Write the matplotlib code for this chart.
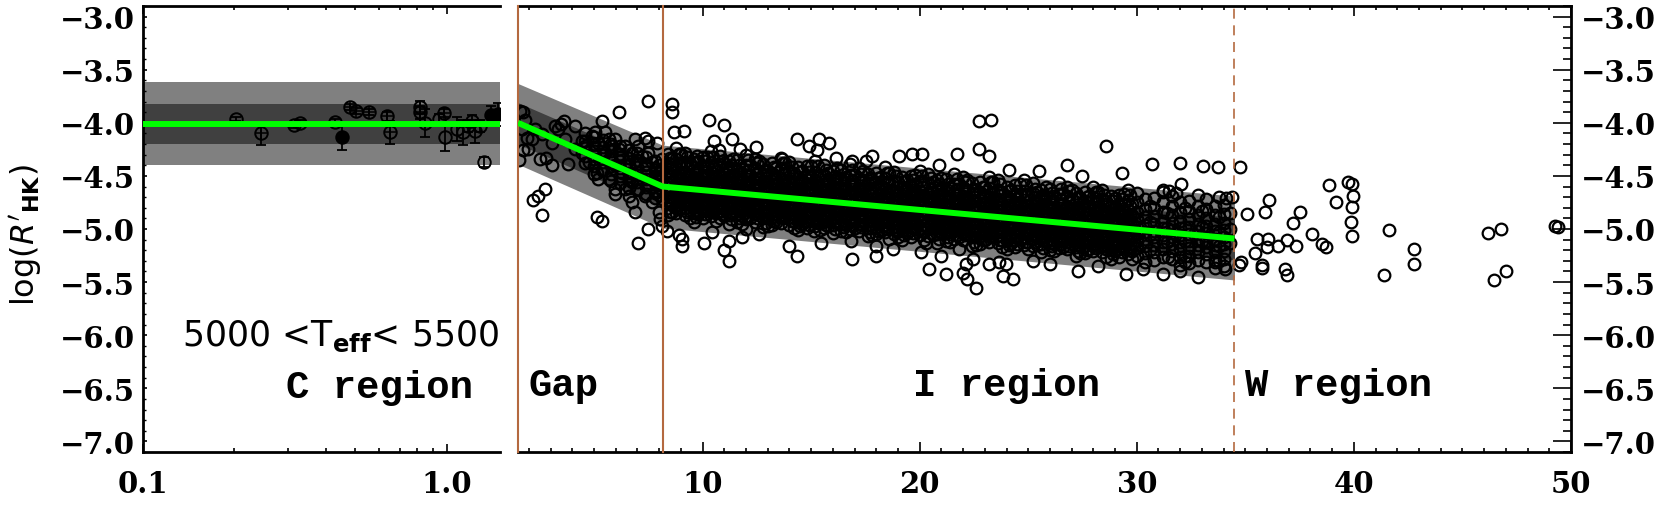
import numpy as np
import matplotlib
matplotlib.use("Agg")
import matplotlib.pyplot as plt
from matplotlib.ticker import FixedLocator, MultipleLocator, NullFormatter, FuncFormatter

# ============================================================
# DADOS - painel C (eixo log)
# ============================================================
c_period = [0.203, 0.244, 0.314, 0.328, 0.429, 0.452, 0.479, 0.504, 0.555, 0.637,
            0.650, 0.817, 0.817, 0.847, 0.946, 0.983, 0.990, 1.08, 1.136, 1.18,
            1.21, 1.24, 1.29, 1.33, 1.40, 1.48]
c_logr = [-3.965, -4.10, -4.02, -4.00, -3.99, -4.13, -3.85, -3.89, -3.90, -3.94,
          -4.09, -3.90, -3.855, -4.00, -3.96, -3.91, -4.13, -4.06, -4.09, -4.03,
          -3.98, -4.08, -4.03, -4.37, -3.93, -3.92]
c_err = [0.02, 0.11, 0.03, 0.03, 0.03, 0.13, 0.03, 0.03, 0.03, 0.04,
         0.11, 0.06, 0.06, 0.13, 0.04, 0.04, 0.14, 0.11, 0.12, 0.06,
         0.05, 0.11, 0.06, 0.05, 0.09, 0.11]
c_filled = [0, 0, 0, 0, 0, 1, 0, 0, 0, 0, 0, 0, 0, 0, 0, 0, 0, 0, 0, 0, 0, 0, 0, 0, 1, 1]
c_cross = [0, 1, 0, 0, 0, 0, 1, 1, 1, 1, 1, 1, 1, 0, 0, 1, 0, 0, 0, 0, 0, 0, 0, 0, 0, 0]
c_mean = -4.01
c_sig1 = [-4.20, -3.82]
c_sig2 = [-4.40, -3.62]

# ============================================================
# DADOS - painel Gap / I / W (eixo linear)
# ============================================================
fit_period = [1.5, 8.16, 34.5]
fit_logr = [-4.00, -4.60, -5.09]
band2_hi = [-3.63, -4.21, -4.69]
band2_lo = [-4.39, -4.99, -5.48]
band1_hi = [-3.81, -4.40, -4.89]
band1_lo = [-4.20, -4.80, -5.29]

gap_period = [1.75, 1.6, 1.82, 1.67, 1.9, 1.98, 1.75, 1.55, 2.5, 2.8, 3.05, 2.6, 3.2, 3.5,
              3.6, 3.36, 4.13, 3.8, 4.44, 4.6, 5.36, 5.05, 5.5, 6.13, 7.51, 5.13, 5.36,
              5.98, 5.98, 6.74, 6.9, 7.51, 7.05, 5.13, 5.36, 2.2, 2.44, 2.75, 2.6, 6.9,
              7.36, 7.51, 7.9, 7.98, 8.05, 6.28, 5.82, 6.44, 6.59, 7.2, 4.9, 5.2, 5.67,
              5.98, 6.13, 6.44, 6.74, 7.05, 7.2, 7.51, 7.67, 7.82, 7.98, 7.36, 6.9, 6.74,
              7.05, 7.51, 7.82, 8.13, 7.67, 7.36, 5.67, 5.98, 5.51, 5.05, 4.75, 4.44,
              4.13, 3.67, 3.05, 2.28, 2.13, 5.2, 5.67, 6.44, 6.59, 7.98, 8.13, 8.13,
              8.13, 7.82, 6.74, 6.98, 6.28, 8.13]
gap_logr = [-3.90, -3.89, -3.97, -4.06, -4.14, -4.25, -4.26, -4.35, -4.34, -4.33, -4.40,
            -4.11, -4.03, -4.01, -3.98, -4.06, -4.03, -4.39, -4.17, -4.22, -3.98, -4.09,
            -4.09, -3.90, -3.79, -4.47, -4.44, -4.62, -4.67, -4.75, -4.84, -5.00, -5.13,
            -4.89, -4.92, -4.73, -4.69, -4.62, -4.87, -4.15, -4.14, -4.17, -4.19, -4.84,
            -4.91, -4.31, -4.22, -4.40, -4.50, -4.53, -4.12, -4.19, -4.15, -4.15, -4.25,
            -4.22, -4.28, -4.22, -4.31, -4.28, -4.37, -4.44, -4.50, -4.40, -4.37, -4.56,
            -4.62, -4.59, -4.66, -4.72, -4.75, -4.69, -4.34, -4.40, -4.28, -4.31, -4.37,
            -4.28, -4.25, -4.15, -4.19, -4.06, -4.15, -4.53, -4.53, -4.62, -4.69, -4.59,
            -4.53, -4.44, -4.34, -4.53, -4.47, -4.53, -4.47, -4.97]

# parte densa da faixa Gap (colunas)
gap_cols = [4.6, 5.0, 5.4, 5.8, 6.2, 6.6, 7.0, 7.4, 7.8, 8.0]
gap_vals = [[-4.10, -4.17, -4.24, -4.31, -4.38],
            [-4.13, -4.20, -4.27, -4.34, -4.41, -4.48],
            [-4.16, -4.23, -4.30, -4.37, -4.44],
            [-4.20, -4.27, -4.34, -4.41, -4.48, -4.55],
            [-4.22, -4.29, -4.36, -4.43, -4.50, -4.57],
            [-4.26, -4.33, -4.40, -4.47, -4.54, -4.61],
            [-4.28, -4.35, -4.42, -4.49, -4.56, -4.63],
            [-4.32, -4.39, -4.46, -4.53, -4.60, -4.67],
            [-4.36, -4.43, -4.50, -4.57, -4.64, -4.71],
            [-4.40, -4.47, -4.54, -4.61, -4.68]]

# parte densa da regiao I (colunas)
core_cols = [8.4, 8.6, 8.8, 9.0, 9.2, 9.4, 9.6, 9.8, 10.0, 10.2, 10.4, 10.6, 10.8, 11.0,
             11.2, 11.4, 11.6, 11.8, 12.0, 12.2, 12.4, 12.6, 12.8, 13.0, 13.2, 13.4,
             13.6, 13.8, 14.0, 14.2, 14.4, 14.6, 14.8, 15.0, 15.2, 15.4, 15.6, 15.8,
             16.0, 16.2, 16.4, 16.6, 16.8, 17.0, 17.2, 17.4, 17.6, 17.8, 18.0, 18.2,
             18.4, 18.6, 18.8, 19.0, 19.2, 19.4, 19.6, 19.8, 20.0, 20.2, 20.4, 20.6,
             20.8, 21.0, 21.2, 21.4, 21.6, 21.8, 22.0, 22.2, 22.4, 22.6, 22.8, 23.0,
             23.2, 23.4, 23.6, 23.8, 24.0, 24.2, 24.4, 24.6, 24.8, 25.0, 25.2, 25.4,
             25.6, 25.8, 26.0, 26.2, 26.4, 26.6, 26.8, 27.0, 27.2, 27.4, 27.6, 27.8,
             28.0, 28.2, 28.4, 28.6, 28.8, 29.0, 29.2, 29.4, 29.6, 29.8, 30.0, 30.4,
             30.6, 30.8, 31.2, 31.4, 31.6, 32.0, 32.2, 32.4, 32.8, 33.0, 33.2, 33.6,
             33.8, 34.0, 34.3]
core_vals = [
    [-4.29, -4.38, -4.46, -4.53, -4.60, -4.66, -4.73, -4.80, -4.87],
    [-4.34, -4.43, -4.50, -4.57, -4.64, -4.70, -4.77, -4.84],
    [-4.24, -4.34, -4.43, -4.51, -4.58, -4.65, -4.71, -4.78, -4.85],
    [-4.29, -4.38, -4.46, -4.53, -4.60, -4.66, -4.73, -4.80],
    [-4.28, -4.37, -4.46, -4.53, -4.60, -4.67, -4.73, -4.80, -4.87],
    [-4.38, -4.49, -4.56, -4.63, -4.69, -4.76, -4.83, -4.90],
    [-4.34, -4.43, -4.51, -4.58, -4.65, -4.71, -4.78, -4.85, -4.93],
    [-4.36, -4.45, -4.52, -4.59, -4.66, -4.72, -4.79, -4.86],
    [-4.32, -4.41, -4.49, -4.56, -4.63, -4.69, -4.76, -4.83, -4.90],
    [-4.32, -4.41, -4.49, -4.56, -4.63, -4.69, -4.76, -4.83],
    [-4.27, -4.37, -4.46, -4.54, -4.61, -4.68, -4.74, -4.81, -4.88],
    [-4.40, -4.51, -4.58, -4.65, -4.71, -4.78, -4.85, -4.92],
    [-4.31, -4.40, -4.49, -4.56, -4.63, -4.70, -4.76, -4.83, -4.90],
    [-4.38, -4.47, -4.54, -4.61, -4.68, -4.74, -4.81, -4.88],
    [-4.36, -4.45, -4.53, -4.60, -4.67, -4.73, -4.80, -4.87, -4.95],
    [-4.34, -4.43, -4.51, -4.58, -4.65, -4.71, -4.78, -4.85],
    [-4.35, -4.44, -4.52, -4.59, -4.66, -4.72, -4.79, -4.86, -4.93],
    [-4.43, -4.54, -4.61, -4.68, -4.74, -4.81, -4.88, -4.95],
    [-4.30, -4.40, -4.49, -4.57, -4.64, -4.71, -4.77, -4.84, -4.91],
    [-4.40, -4.49, -4.56, -4.63, -4.70, -4.76, -4.83, -4.90],
    [-4.34, -4.43, -4.52, -4.59, -4.66, -4.73, -4.79, -4.86, -4.93],
    [-4.36, -4.45, -4.53, -4.60, -4.67, -4.73, -4.80, -4.87],
    [-4.39, -4.48, -4.56, -4.63, -4.70, -4.76, -4.83, -4.90, -4.98],
    [-4.45, -4.56, -4.63, -4.70, -4.76, -4.83, -4.90, -4.97],
    [-4.38, -4.47, -4.55, -4.62, -4.69, -4.75, -4.82, -4.89, -4.96],
    [-4.43, -4.52, -4.59, -4.66, -4.73, -4.79, -4.86, -4.93],
    [-4.33, -4.43, -4.52, -4.60, -4.67, -4.74, -4.80, -4.87, -4.94],
    [-4.38, -4.47, -4.55, -4.62, -4.69, -4.75, -4.82, -4.89],
    [-4.37, -4.46, -4.55, -4.62, -4.69, -4.76, -4.82, -4.89, -4.96],
    [-4.47, -4.58, -4.65, -4.72, -4.78, -4.85, -4.92, -4.99],
    [-4.42, -4.51, -4.59, -4.66, -4.73, -4.79, -4.86, -4.93, -5.01],
    [-4.45, -4.54, -4.61, -4.68, -4.75, -4.81, -4.88, -4.95],
    [-4.41, -4.50, -4.58, -4.65, -4.72, -4.78, -4.85, -4.92, -4.99],
    [-4.41, -4.50, -4.58, -4.65, -4.72, -4.78, -4.85, -4.92],
    [-4.36, -4.46, -4.55, -4.63, -4.70, -4.77, -4.83, -4.90, -4.97],
    [-4.49, -4.60, -4.67, -4.74, -4.80, -4.87, -4.94, -5.01],
    [-4.40, -4.49, -4.58, -4.65, -4.72, -4.79, -4.85, -4.92, -4.99],
    [-4.47, -4.56, -4.63, -4.70, -4.77, -4.83, -4.90, -4.97],
    [-4.45, -4.54, -4.62, -4.69, -4.76, -4.82, -4.89, -4.96, -5.04],
    [-4.43, -4.52, -4.60, -4.67, -4.74, -4.80, -4.87, -4.94],
    [-4.44, -4.53, -4.61, -4.68, -4.75, -4.81, -4.88, -4.95, -5.02],
    [-4.51, -4.62, -4.69, -4.76, -4.82, -4.89, -4.96, -5.03],
    [-4.39, -4.49, -4.58, -4.66, -4.73, -4.80, -4.86, -4.93, -5.00],
    [-4.49, -4.58, -4.65, -4.72, -4.79, -4.85, -4.92, -4.99],
    [-4.43, -4.52, -4.61, -4.68, -4.75, -4.82, -4.88, -4.95, -5.02],
    [-4.45, -4.54, -4.62, -4.69, -4.76, -4.82, -4.89, -4.96],
    [-4.48, -4.57, -4.65, -4.72, -4.79, -4.85, -4.92, -4.99, -5.07],
    [-4.54, -4.65, -4.72, -4.79, -4.85, -4.92, -4.99, -5.06],
    [-4.47, -4.56, -4.64, -4.71, -4.78, -4.84, -4.91, -4.98, -5.05],
    [-4.51, -4.60, -4.67, -4.74, -4.81, -4.87, -4.94, -5.01],
    [-4.42, -4.52, -4.61, -4.69, -4.76, -4.83, -4.89, -4.96, -5.03],
    [-4.47, -4.56, -4.64, -4.71, -4.78, -4.84, -4.91, -4.98],
    [-4.46, -4.55, -4.64, -4.71, -4.78, -4.85, -4.91, -4.98, -5.05],
    [-4.56, -4.67, -4.74, -4.81, -4.87, -4.94, -5.01, -5.08],
    [-4.51, -4.60, -4.68, -4.75, -4.82, -4.88, -4.95, -5.02, -5.10],
    [-4.54, -4.63, -4.70, -4.77, -4.84, -4.90, -4.97, -5.04],
    [-4.50, -4.59, -4.67, -4.74, -4.81, -4.87, -4.94, -5.01, -5.08],
    [-4.49, -4.58, -4.66, -4.73, -4.80, -4.86, -4.93, -5.00],
    [-4.45, -4.55, -4.64, -4.72, -4.79, -4.86, -4.92, -4.99, -5.06],
    [-4.58, -4.69, -4.76, -4.83, -4.89, -4.96, -5.03, -5.10],
    [-4.48, -4.57, -4.66, -4.73, -4.80, -4.87, -4.93, -5.00, -5.07],
    [-4.56, -4.65, -4.72, -4.79, -4.86, -4.92, -4.99, -5.06],
    [-4.54, -4.63, -4.71, -4.78, -4.85, -4.91, -4.98, -5.05, -5.13],
    [-4.52, -4.61, -4.69, -4.76, -4.83, -4.89, -4.96, -5.03],
    [-4.53, -4.62, -4.70, -4.77, -4.84, -4.90, -4.97, -5.04, -5.11],
    [-4.60, -4.71, -4.78, -4.85, -4.91, -4.98, -5.05, -5.12],
    [-4.48, -4.58, -4.67, -4.75, -4.82, -4.89, -4.95, -5.02, -5.09],
    [-4.58, -4.67, -4.74, -4.81, -4.88, -4.94, -5.01, -5.08],
    [-4.51, -4.60, -4.69, -4.76, -4.83, -4.90, -4.96, -5.03, -5.10],
    [-4.54, -4.63, -4.71, -4.78, -4.85, -4.91, -4.98, -5.05],
    [-4.57, -4.66, -4.74, -4.81, -4.88, -4.94, -5.01, -5.08, -5.16],
    [-4.63, -4.74, -4.81, -4.88, -4.94, -5.01, -5.08, -5.15],
    [-4.56, -4.65, -4.73, -4.80, -4.87, -4.93, -5.00, -5.07, -5.14],
    [-4.60, -4.69, -4.76, -4.83, -4.90, -4.96, -5.03, -5.10],
    [-4.51, -4.61, -4.70, -4.78, -4.85, -4.92, -4.98, -5.05, -5.12],
    [-4.56, -4.65, -4.73, -4.80, -4.87, -4.93, -5.00, -5.07],
    [-4.54, -4.63, -4.72, -4.79, -4.86, -4.93, -4.99, -5.06, -5.13],
    [-4.65, -4.76, -4.83, -4.90, -4.96, -5.03, -5.10, -5.17],
    [-4.60, -4.69, -4.77, -4.84, -4.91, -4.97, -5.04, -5.11, -5.19],
    [-4.63, -4.72, -4.79, -4.86, -4.93, -4.99, -5.06, -5.13],
    [-4.59, -4.68, -4.76, -4.83, -4.90, -4.96, -5.03, -5.10, -5.17],
    [-4.58, -4.67, -4.75, -4.82, -4.89, -4.95, -5.02, -5.09],
    [-4.54, -4.64, -4.73, -4.81, -4.88, -4.95, -5.01, -5.08, -5.15],
    [-4.67, -4.78, -4.85, -4.92, -4.98, -5.05, -5.12, -5.19],
    [-4.57, -4.66, -4.75, -4.82, -4.89, -4.96, -5.02, -5.09, -5.16],
    [-4.65, -4.74, -4.81, -4.88, -4.95, -5.01, -5.08, -5.15],
    [-4.63, -4.72, -4.80, -4.87, -4.94, -5.00, -5.07, -5.14, -5.22],
    [-4.60, -4.69, -4.77, -4.84, -4.91, -4.97, -5.04, -5.11],
    [-4.62, -4.71, -4.79, -4.86, -4.93, -4.99, -5.06, -5.13, -5.20],
    [-4.69, -4.80, -4.87, -4.94, -5.00, -5.07, -5.14, -5.21],
    [-4.57, -4.67, -4.76, -4.84, -4.91, -4.98, -5.04, -5.11, -5.18],
    [-4.67, -4.76, -4.83, -4.90, -4.97, -5.03, -5.10, -5.17],
    [-4.60, -4.69, -4.78, -4.85, -4.92, -4.99, -5.05, -5.12, -5.19],
    [-4.63, -4.72, -4.80, -4.87, -4.94, -5.00, -5.07, -5.14],
    [-4.66, -4.75, -4.83, -4.90, -4.97, -5.03, -5.10, -5.17, -5.25],
    [-4.71, -4.82, -4.89, -4.96, -5.02, -5.09, -5.16, -5.23],
    [-4.65, -4.74, -4.82, -4.89, -4.96, -5.02, -5.09, -5.16, -5.23],
    [-4.69, -4.78, -4.85, -4.92, -4.99, -5.05, -5.12, -5.19],
    [-4.60, -4.70, -4.79, -4.87, -4.94, -5.01, -5.07, -5.14, -5.21],
    [-4.65, -4.74, -4.82, -4.89, -4.96, -5.02, -5.09, -5.16],
    [-4.63, -4.72, -4.81, -4.88, -4.95, -5.02, -5.08, -5.15, -5.22],
    [-4.74, -4.85, -4.92, -4.99, -5.05, -5.12, -5.19, -5.26],
    [-4.69, -4.78, -4.86, -4.93, -5.00, -5.06, -5.13, -5.20, -5.28],
    [-4.71, -4.80, -4.87, -4.94, -5.01, -5.07, -5.14, -5.21],
    [-4.68, -4.77, -4.85, -4.92, -4.99, -5.05, -5.12, -5.19, -5.26],
    [-4.67, -4.76, -4.84, -4.91, -4.98, -5.04, -5.11, -5.18],
    [-4.63, -4.73, -4.82, -4.90, -4.97, -5.04, -5.10, -5.17, -5.24],
    [-4.76, -4.87, -4.94, -5.01, -5.07, -5.14, -5.21, -5.28],
    [-4.66, -4.75, -4.84, -4.91, -4.98, -5.05, -5.11, -5.18, -5.25],
    [-4.72, -4.81, -4.89, -4.96, -5.03, -5.09, -5.16, -5.23, -5.31],
    [-4.78, -4.93, -5.06, -5.20],
    [-4.71, -4.80, -4.88, -4.95, -5.02, -5.08, -5.15, -5.22, -5.29],
    [-4.65, -4.75, -4.84, -4.92, -4.99, -5.06, -5.12, -5.19, -5.26],
    [-4.85, -4.99, -5.12],
    [-4.69, -4.78, -4.87, -4.94, -5.01, -5.08, -5.14, -5.21, -5.28],
    [-4.75, -4.84, -4.92, -4.99, -5.06, -5.12, -5.19, -5.26, -5.34],
    [-4.80, -4.98, -5.11, -5.25],
    [-4.74, -4.83, -4.91, -4.98, -5.05, -5.11, -5.18, -5.25, -5.32],
    [-4.68, -4.78, -4.87, -4.95, -5.02, -5.09, -5.15, -5.22, -5.29],
    [-4.83, -4.98, -5.11],
    [-4.72, -4.81, -4.90, -4.97, -5.04, -5.11, -5.17, -5.24, -5.31],
    [-4.78, -4.87, -4.95, -5.02, -5.09, -5.15, -5.22, -5.29, -5.37],
    [-4.89, -5.03, -5.16, -5.30],
    [-4.77, -4.86, -4.94, -5.01, -5.08, -5.14, -5.21, -5.28, -5.35],
    [-4.85, -5.00, -5.13]]

# miolo mais denso (entre as colunas acima)
core2_cols = [8.5, 8.9, 9.3, 9.7, 10.1, 10.5, 10.9, 11.3, 11.7, 12.1, 12.5, 12.9, 13.3,
              13.7, 14.1, 14.5, 14.9, 15.3, 15.7, 16.1, 16.5, 16.9, 17.3, 17.7, 18.1,
              18.5, 18.9, 19.3, 19.7, 20.1, 20.5, 20.9, 21.3, 21.7, 22.1, 22.5, 22.9,
              23.3, 23.7, 24.1, 24.5, 24.9, 25.3, 25.7, 26.1, 26.5, 26.9, 27.3, 27.7,
              28.1, 28.5, 28.9, 29.3, 29.7]
core2_vals = [
    [-4.33, -4.42, -4.50, -4.56, -4.63, -4.70, -4.76, -4.84],
    [-4.29, -4.38, -4.47, -4.54, -4.61, -4.68, -4.74, -4.81],
    [-4.32, -4.41, -4.50, -4.56, -4.63, -4.70, -4.76, -4.84],
    [-4.38, -4.47, -4.54, -4.61, -4.68, -4.74, -4.82, -4.89],
    [-4.36, -4.45, -4.52, -4.60, -4.66, -4.72, -4.80, -4.86],
    [-4.32, -4.42, -4.50, -4.58, -4.64, -4.71, -4.78, -4.84],
    [-4.36, -4.44, -4.52, -4.60, -4.66, -4.73, -4.80, -4.86],
    [-4.40, -4.49, -4.56, -4.64, -4.70, -4.76, -4.84, -4.91],
    [-4.40, -4.48, -4.56, -4.62, -4.69, -4.76, -4.82, -4.90],
    [-4.35, -4.44, -4.53, -4.60, -4.68, -4.74, -4.80, -4.88],
    [-4.38, -4.48, -4.56, -4.62, -4.70, -4.76, -4.82, -4.90],
    [-4.44, -4.52, -4.60, -4.66, -4.73, -4.80, -4.86, -4.94],
    [-4.42, -4.51, -4.58, -4.66, -4.72, -4.78, -4.86, -4.92],
    [-4.38, -4.48, -4.56, -4.64, -4.70, -4.77, -4.84, -4.90],
    [-4.42, -4.50, -4.58, -4.66, -4.72, -4.79, -4.86, -4.92],
    [-4.46, -4.55, -4.62, -4.70, -4.76, -4.82, -4.90, -4.97],
    [-4.46, -4.54, -4.62, -4.68, -4.75, -4.82, -4.88, -4.96],
    [-4.41, -4.50, -4.59, -4.66, -4.74, -4.80, -4.86, -4.94],
    [-4.44, -4.54, -4.62, -4.68, -4.76, -4.82, -4.88, -4.96],
    [-4.50, -4.58, -4.66, -4.72, -4.79, -4.86, -4.92, -5.00],
    [-4.48, -4.57, -4.64, -4.72, -4.78, -4.84, -4.92, -4.98],
    [-4.44, -4.54, -4.62, -4.70, -4.76, -4.83, -4.90, -4.96],
    [-4.48, -4.56, -4.64, -4.72, -4.78, -4.85, -4.92, -4.98],
    [-4.52, -4.61, -4.68, -4.76, -4.82, -4.88, -4.96, -5.03],
    [-4.52, -4.60, -4.68, -4.74, -4.81, -4.88, -4.94, -5.02],
    [-4.47, -4.56, -4.65, -4.72, -4.80, -4.86, -4.92, -5.00],
    [-4.50, -4.60, -4.68, -4.74, -4.82, -4.88, -4.94, -5.02],
    [-4.56, -4.64, -4.72, -4.78, -4.85, -4.92, -4.98, -5.06],
    [-4.54, -4.63, -4.70, -4.78, -4.84, -4.90, -4.98, -5.04],
    [-4.50, -4.60, -4.68, -4.76, -4.82, -4.89, -4.96, -5.02],
    [-4.52, -4.62, -4.70, -4.76, -4.84, -4.90, -4.96, -5.04],
    [-4.58, -4.67, -4.74, -4.82, -4.88, -4.94, -5.02, -5.09],
    [-4.58, -4.66, -4.74, -4.80, -4.87, -4.94, -5.00, -5.08],
    [-4.53, -4.62, -4.71, -4.78, -4.86, -4.92, -4.98, -5.06],
    [-4.56, -4.64, -4.72, -4.80, -4.86, -4.93, -5.00, -5.06],
    [-4.62, -4.70, -4.78, -4.84, -4.91, -4.98, -5.04, -5.12],
    [-4.60, -4.69, -4.76, -4.84, -4.90, -4.96, -5.04, -5.10],
    [-4.56, -4.66, -4.74, -4.82, -4.88, -4.95, -5.02, -5.08],
    [-4.58, -4.68, -4.76, -4.82, -4.90, -4.96, -5.02, -5.10],
    [-4.64, -4.73, -4.80, -4.88, -4.94, -5.00, -5.08, -5.15],
    [-4.64, -4.72, -4.80, -4.86, -4.93, -5.00, -5.06, -5.14],
    [-4.59, -4.68, -4.77, -4.84, -4.92, -4.98, -5.04, -5.12],
    [-4.62, -4.70, -4.78, -4.86, -4.92, -4.99, -5.06, -5.12],
    [-4.68, -4.76, -4.84, -4.90, -4.97, -5.04, -5.10, -5.18],
    [-4.66, -4.75, -4.82, -4.90, -4.96, -5.02, -5.10, -5.16],
    [-4.62, -4.72, -4.80, -4.88, -4.94, -5.01, -5.08, -5.14],
    [-4.64, -4.74, -4.82, -4.88, -4.96, -5.02, -5.08, -5.16],
    [-4.70, -4.79, -4.86, -4.94, -5.00, -5.06, -5.14, -5.21],
    [-4.70, -4.78, -4.86, -4.92, -4.99, -5.06, -5.12, -5.20],
    [-4.65, -4.74, -4.83, -4.90, -4.98, -5.04, -5.10, -5.18],
    [-4.68, -4.76, -4.84, -4.92, -4.98, -5.05, -5.12, -5.18],
    [-4.74, -4.82, -4.90, -4.96, -5.03, -5.10, -5.16, -5.24],
    [-4.72, -4.81, -4.88, -4.96, -5.02, -5.08, -5.16, -5.22],
    [-4.68, -4.78, -4.86, -4.94, -5.00, -5.07, -5.14, -5.20]]

# pontos espalhados da regiao I
i_period = [8.59, 8.59, 9.13, 8.67, 10.28, 10.98, 10.52, 11.36, 10.75, 11.74, 12.44, 14.36,
            14.9, 15.36, 15.82, 15.28, 16.13, 17.82, 17.51, 19.05, 19.67, 20.13, 20.9,
            21.74, 22.74, 23.28, 22.74, 23.2, 24.1, 16.9, 13.67, 9.74,
            9.05, 9.05, 8.9, 8.36, 10.05, 10.44, 11.2, 10.98, 11.2, 11.82, 11.98, 12.59,
            13.98, 14.36, 15.13, 15.44, 16.82, 16.9, 17.98, 17.98, 18.75, 18.59, 20.05,
            20.44, 21.2, 20.98, 21.98, 22.13, 22.2, 22.59, 22.44, 23.2, 23.82, 23.67,
            23.98, 24.28, 21.82, 20.28,
            30.7, 31.99, 33.07, 33.73, 32.04, 31.2, 31.5, 31.8, 33.8, 34.1, 34.4, 31.2,
            32.0, 32.84, 34.07, 33.6, 32.2, 31.45,
            25.5, 26.8, 27.5, 28.6, 29.3, 26.0, 27.3, 28.2, 29.5, 30.3, 25.2]
i_logr = [-3.82, -3.90, -4.08, -4.09, -3.97, -4.02, -4.17, -4.15, -4.26, -4.25, -4.23, -4.15,
          -4.22, -4.15, -4.19, -4.26, -4.33, -4.31, -4.36, -4.31, -4.29, -4.29, -4.40,
          -4.29, -3.98, -3.97, -4.25, -4.31, -4.44, -4.36, -4.34, -4.31,
          -5.09, -5.16, -5.06, -5.02, -5.13, -5.03, -5.11, -5.20, -5.30, -5.08, -5.00,
          -5.05, -5.16, -5.25, -5.02, -5.13, -5.11, -5.28, -5.16, -5.25, -5.19, -5.09,
          -5.22, -5.38, -5.42, -5.25, -5.41, -5.33, -5.47, -5.56, -5.28, -5.33, -5.44,
          -5.31, -5.33, -5.47, -5.19, -5.13,
          -4.39, -4.38, -4.41, -4.42, -4.58, -4.63, -4.64, -4.66, -4.70, -4.71, -4.70,
          -5.42, -5.40, -5.45, -5.38, -5.31, -5.31, -5.26,
          -4.45, -4.40, -4.50, -4.22, -4.47, -5.33, -5.40, -5.35, -5.42, -5.38, -5.30]

# regiao W
w_period = [34.76, 35.06, 34.79, 34.7, 35.52, 36.06, 35.98, 35.44, 35.75, 35.75, 35.9, 36.1,
            36.51, 36.9, 36.83, 36.9, 37.2, 37.33, 37.52, 38.06, 38.52, 38.72, 38.86,
            39.18, 39.75, 39.93, 39.98, 39.93, 39.87, 39.93, 41.39, 41.62, 42.77, 42.77,
            46.17, 46.77, 46.47, 47.0, 49.27, 49.4]
w_logr = [-4.42, -4.86, -5.31, -5.34, -5.09, -5.09, -5.17, -5.23, -5.34, -5.37, -4.84, -4.73,
          -5.16, -5.10, -5.38, -5.43, -4.94, -5.16, -4.84, -5.05, -5.14, -5.17, -4.59,
          -4.75, -4.56, -4.58, -4.69, -4.79, -4.93, -5.07, -5.43, -5.01, -5.19, -5.33,
          -5.04, -5.00, -5.48, -5.40, -4.97, -4.98]

vline_solid = [1.5, 8.16]
vline_dash = 34.5

BROWN = "#b4693f"
GREEN = "#00ff00"
LIGHT = "#808080"
DARK = "#404040"

plt.rcParams["font.family"] = "DejaVu Serif"

fig = plt.figure(figsize=(16.61, 5.06), dpi=100)
W, H = 1661.0, 506.0
ax1 = fig.add_axes([143 / W, 53 / H, 357 / W, 446 / H])
ax2 = fig.add_axes([518 / W, 53 / H, 1053 / W, 446 / H])

fmt = FuncFormatter(lambda v, p: f"{v:.1f}".replace("-", "\u2212"))

# ============================================================
# PAINEL C
# ============================================================
ax1.axhspan(c_sig2[0], c_sig2[1], color=LIGHT, lw=0, zorder=0)
ax1.axhspan(c_sig1[0], c_sig1[1], color=DARK, lw=0, zorder=1)
ax1.errorbar(c_period, c_logr, yerr=c_err, fmt="none", ecolor="k", elinewidth=1.3,
             capsize=3.5, capthick=1.3, zorder=3)
for x, y, f, c in zip(c_period, c_logr, c_filled, c_cross):
    ax1.plot(x, y, "o", ms=9, mew=1.4, mec="k", mfc="k" if f else "none", zorder=4)
    if c:
        ax1.plot(x, y, "+", ms=9, mew=1.1, color="k", zorder=4)
ax1.axhline(c_mean, color=GREEN, lw=4.3, zorder=5)

ax1.set_xscale("log")
ax1.set_xlim(0.1, 1.5)
ax1.set_ylim(-7.1, -2.9)
ax1.xaxis.set_major_locator(FixedLocator([0.1, 1.0]))
ax1.xaxis.set_minor_locator(FixedLocator([0.2, 0.3, 0.4, 0.5, 0.6, 0.7, 0.8, 0.9]))
ax1.xaxis.set_major_formatter(fmt)
ax1.xaxis.set_minor_formatter(NullFormatter())
ax1.yaxis.set_major_locator(MultipleLocator(0.5))
ax1.yaxis.set_minor_locator(MultipleLocator(0.1))
ax1.yaxis.set_major_formatter(fmt)
ax1.tick_params(axis="x", which="major", direction="in", length=5.5, width=1.2,
                top=True, bottom=True, labelsize=21, pad=12)
ax1.tick_params(axis="x", which="minor", direction="in", length=3, width=1.2,
                top=True, bottom=True)
ax1.tick_params(axis="y", which="major", direction="in", length=3.2, width=1.2,
                left=True, right=False, labelsize=21, pad=6)
ax1.tick_params(axis="y", which="minor", direction="in", length=2, width=1.0,
                left=True, right=False)
ax1.spines["right"].set_visible(False)
for s in ["left", "top", "bottom"]:
    ax1.spines[s].set_linewidth(2)

ax1.text(0.998, -6.0, r"5000 <T$_{\mathbf{eff}}$< 5500", transform=ax1.get_yaxis_transform(),
         ha="right", va="center", fontsize=25, family="DejaVu Sans")
ax1.text(0.925, -6.49, "C region", transform=ax1.get_yaxis_transform(),
         ha="right", va="center", fontsize=28, family="Liberation Mono", weight="bold")

# ============================================================
# PAINEL Gap / I / W
# ============================================================
ax2.fill_between(fit_period, band2_lo, band2_hi, color=LIGHT, lw=0, zorder=0)
ax2.fill_between(fit_period, band1_lo, band1_hi, color=DARK, lw=0, zorder=1)

core_x = [x for x, ys in zip(core_cols, core_vals) for _ in ys]
core_y = [y for ys in core_vals for y in ys]
core2_x = [x for x, ys in zip(core2_cols, core2_vals) for _ in ys]
core2_y = [y for ys in core2_vals for y in ys]
gcore_x = [x for x, ys in zip(gap_cols, gap_vals) for _ in ys]
gcore_y = [y for ys in gap_vals for y in ys]

all_x = gap_period + gcore_x + core_x + core2_x + i_period + w_period
all_y = gap_logr + gcore_y + core_y + core2_y + i_logr + w_logr
ax2.plot(all_x, all_y, "o", ms=8.4, mew=1.6, mec="k", mfc="none", zorder=3)

for xv in vline_solid:
    ax2.axvline(xv, color=BROWN, lw=1.5, zorder=4, clip_on=False)
ax2.axvline(vline_dash, color=BROWN, lw=1.2, ls=(0, (6, 4)), zorder=4)
ax2.plot(fit_period, fit_logr, color=GREEN, lw=4.3, zorder=5, solid_capstyle="butt")

ax2.set_xlim(1.5, 50)
ax2.set_ylim(-7.1, -2.9)
ax2.xaxis.set_major_locator(FixedLocator([10, 20, 30, 40, 50]))
ax2.xaxis.set_minor_locator(MultipleLocator(1))
ax2.yaxis.set_major_locator(MultipleLocator(0.5))
ax2.yaxis.set_minor_locator(MultipleLocator(0.1))
ax2.yaxis.set_major_formatter(fmt)
ax2.tick_params(axis="x", which="major", direction="in", length=7, width=1.2,
                top=True, bottom=True, labelsize=21, pad=12)
ax2.tick_params(axis="x", which="minor", direction="in", length=3, width=1.2,
                top=True, bottom=True)
ax2.tick_params(axis="y", which="major", direction="in", length=13, width=1.2,
                left=False, right=True, labelleft=False, labelright=True,
                labelsize=21, pad=7)
ax2.tick_params(axis="y", which="minor", direction="in", length=6, width=1.2,
                left=False, right=True)
ax2.spines["left"].set_visible(False)
for s in ["right", "top", "bottom"]:
    ax2.spines[s].set_linewidth(2)

for ax in (ax1, ax2):
    for lab in ax.get_xticklabels() + ax.get_yticklabels():
        lab.set_fontweight("bold")

reg_font = dict(fontsize=28, family="Liberation Mono", weight="bold", va="center")
ax2.text(2.0, -6.47, "Gap", ha="left", **reg_font)
ax2.text(24.0, -6.47, "I region", ha="center", **reg_font)
ax2.text(35.0, -6.47, "W region", ha="left", **reg_font)

# ============================================================
# EIXO Y
# ============================================================
fig.text(26 / W, 1 - 235 / H, r"log($R'_{\mathbf{HK}}$)", rotation=90,
         ha="center", va="center", fontsize=23, family="DejaVu Sans")

fig.savefig("out.png", dpi=100)
print("ok")
